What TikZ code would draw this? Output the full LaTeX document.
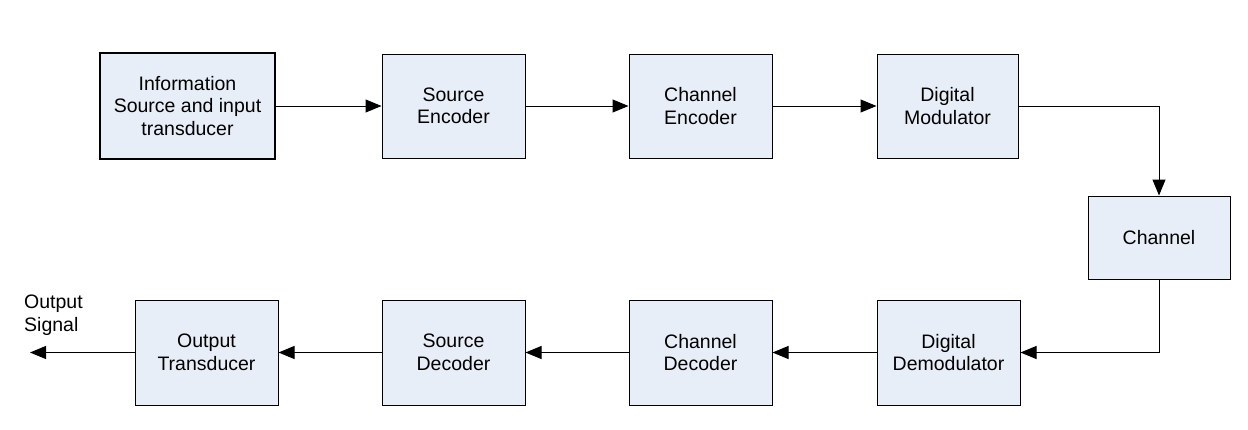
\documentclass[tikz,border=0pt]{standalone}
\usepackage{fontspec}
\setmainfont{Liberation Sans}
\usetikzlibrary{arrows.meta}
\definecolor{boxfill}{HTML}{E8EEF8}
\begin{document}
\begin{tikzpicture}[x=1pt,y=-1pt,
  blk/.style={draw=black,line width=1pt,fill=boxfill,inner sep=0pt,minimum width=143pt,minimum height=104pt,align=center,font=\fontsize{19.5}{22.5}\selectfont},
  arr/.style={line width=1pt,-{Triangle[length=16pt,width=13pt]}}]
\useasboundingbox (0,0) rectangle (1248,429);
\node[blk,line width=2pt,minimum width=175pt,minimum height=106pt] (info) at (187.5,106) {Information\\Source and input\\transducer};
\node[blk] (senc) at (453.5,106) {Source\\Encoder};
\node[blk] (cenc) at (700.5,106) {Channel\\Encoder};
\node[blk,minimum width=141pt] (dmod) at (947.5,106) {Digital\\Modulator};
\node[blk,minimum width=142pt,minimum height=83pt] (chan) at (1159,237.5) {Channel};
\node[blk,minimum width=143pt,minimum height=105pt] (ddem) at (948.5,352.5) {Digital\\Demodulator};
\node[blk,minimum height=105pt] (cdec) at (700.5,352.5) {Channel\\Decoder};
\node[blk,minimum height=105pt] (sdec) at (453.5,352.5) {Source\\Decoder};
\node[blk,minimum height=105pt] (otr) at (206.5,352.5) {Output\\Transducer};
\coordinate (out) at (30,352.5);
\node[anchor=north west,inner sep=0pt,align=left,font=\fontsize{19.5}{22.5}\selectfont] (lbl) at (24,295) {Output\\Signal};
\draw[arr] (info.east) -- (senc.west);
\draw[arr] (senc.east) -- (cenc.west);
\draw[arr] (cenc.east) -- (dmod.west);
\draw[arr] (dmod.east) -| (chan.north);
\draw[arr] (chan.south) |- (ddem.east);
\draw[arr] (ddem.west) -- (cdec.east);
\draw[arr] (cdec.west) -- (sdec.east);
\draw[arr] (sdec.west) -- (otr.east);
\draw[arr] (otr.west) -- (out);
\end{tikzpicture}
\end{document}
